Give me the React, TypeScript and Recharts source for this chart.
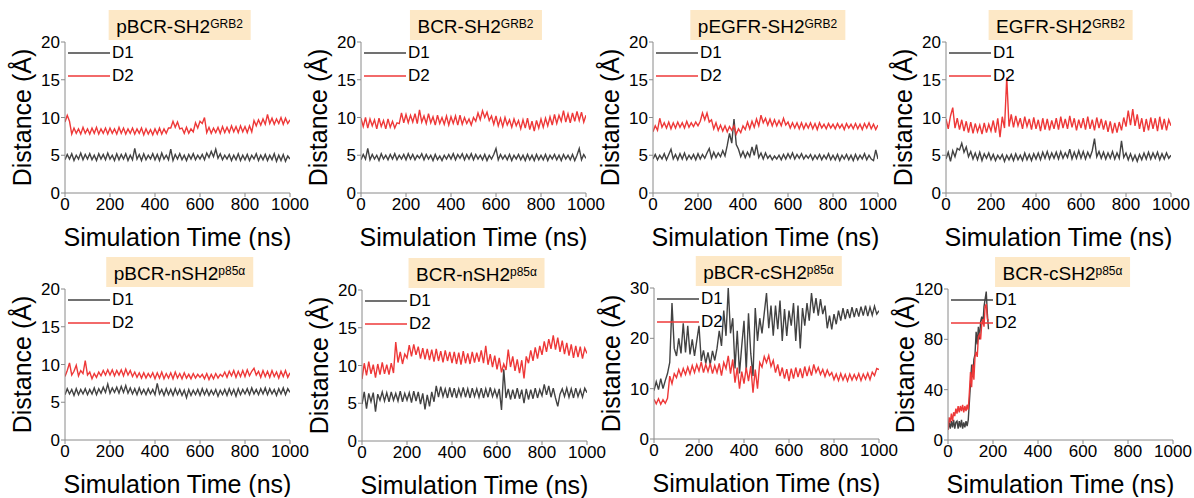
import React from "react";
import { LineChart, Line, XAxis, YAxis, Legend } from "recharts";

// sampling of the traces (ns between points)
const STEP_LONG = 10;
const STEP_SHORT = 5;

const X_TICKS = [0, 200, 400, 600, 800, 1000];
const X_MINOR = [100, 300, 500, 700, 900];
const Y_TICKS_20 = [0, 5, 10, 15, 20];
const Y_MINOR_20 = [2.5, 7.5, 12.5, 17.5];
const Y_TICKS_30 = [0, 10, 20, 30];
const Y_MINOR_30 = [5, 15, 25];
const Y_TICKS_120 = [0, 40, 80, 120];
const Y_MINOR_120 = [20, 60, 100];

// pBCR-SH2 GRB2
const pbcrGrb2D1 = [
  4.4, 5.1, 4.5, 5.2, 4.3, 5.0, 4.5, 5.3, 4.4, 5.1,
  4.5, 5.2, 4.4, 5.0, 4.3, 5.2, 4.5, 5.1, 4.4, 5.3,
  4.5, 5.0, 4.3, 5.2, 4.4, 5.1, 4.5, 5.2, 4.3, 5.0,
  4.4, 5.9, 4.5, 5.1, 4.3, 5.2, 4.4, 5.0, 4.5, 5.2,
  4.4, 5.1, 4.3, 5.3, 4.5, 5.0, 4.4, 5.8, 4.3, 5.1,
  4.5, 5.2, 4.4, 5.0, 4.3, 5.1, 4.5, 5.2, 4.4, 5.0,
  4.5, 5.1, 4.4, 5.3, 4.7, 5.5, 4.8, 5.8, 4.6, 5.2,
  4.4, 5.0, 4.5, 5.1, 4.3, 5.0, 4.4, 5.2, 4.3, 5.0,
  4.4, 5.1, 4.3, 5.0, 4.5, 5.2, 4.3, 5.0, 4.4, 5.1,
  4.3, 5.0, 4.4, 5.2, 4.2, 5.0, 4.3, 5.1, 4.2, 4.9, 4.5,
];
const pbcrGrb2D2 = [
  9.4, 10.3, 9.5, 7.8, 8.6, 7.9, 8.5, 7.8, 8.7, 7.9,
  8.5, 7.8, 8.6, 7.9, 8.7, 7.8, 8.5, 7.9, 8.6, 7.8,
  8.6, 7.9, 8.5, 7.8, 8.7, 7.9, 8.6, 7.8, 8.5, 7.9,
  8.6, 7.8, 8.5, 7.9, 8.6, 7.7, 8.5, 7.8, 8.4, 7.7,
  8.5, 7.8, 8.6, 7.8, 8.5, 7.9, 8.6, 8.6, 9.5, 8.7,
  9.4, 8.5, 8.6, 7.9, 8.7, 7.9, 8.5, 8.1, 9.3, 8.6,
  9.5, 9.2, 10.0, 8.0, 8.7, 7.9, 8.6, 8.0, 8.7, 7.9,
  8.8, 8.0, 8.7, 8.0, 8.9, 8.1, 8.8, 8.0, 8.9, 8.1,
  8.8, 8.0, 8.9, 8.1, 9.6, 8.9, 9.7, 9.0, 9.8, 9.1,
  10.4, 9.2, 9.9, 9.1, 9.8, 9.2, 10.0, 9.1, 9.9, 9.2, 9.7,
];

// BCR-SH2 GRB2
const bcrGrb2D1 = [
  4.4, 5.1, 4.5, 5.9, 4.4, 5.1, 4.5, 5.0, 4.3, 5.2,
  4.5, 5.0, 4.4, 5.1, 4.5, 5.2, 4.4, 5.0, 4.5, 5.1,
  4.4, 5.2, 4.5, 5.1, 4.4, 5.0, 4.6, 5.2, 4.4, 5.1,
  4.5, 5.0, 4.3, 5.1, 4.4, 4.9, 4.3, 5.0, 4.5, 5.1,
  4.5, 5.2, 4.4, 5.1, 4.6, 5.2, 4.4, 5.1, 4.5, 5.2,
  4.4, 5.1, 4.5, 5.0, 4.4, 5.1, 4.3, 5.0, 4.5, 5.1,
  5.9, 4.4, 5.1, 4.5, 5.0, 4.4, 5.1, 4.3, 5.0, 4.5,
  5.1, 4.4, 5.0, 4.3, 5.1, 4.4, 5.0, 4.3, 5.1, 4.4,
  5.0, 4.4, 5.1, 4.3, 5.0, 4.5, 5.1, 4.4, 5.0, 4.3,
  5.1, 4.5, 5.0, 4.4, 5.1, 4.3, 5.0, 5.9, 4.4, 5.1, 4.6,
];
const bcrGrb2D2 = [
  9.9, 8.8, 10.0, 8.6, 9.8, 8.9, 9.7, 8.5, 9.9, 8.8,
  9.6, 8.5, 9.8, 8.7, 9.5, 8.6, 9.3, 9.2, 10.6, 9.3,
  10.4, 9.3, 10.3, 9.4, 10.5, 9.2, 11.0, 9.4, 10.2, 9.2,
  10.5, 9.3, 10.1, 9.0, 10.3, 9.2, 10.0, 9.1, 10.2, 9.0,
  10.1, 9.2, 10.2, 9.0, 10.3, 9.1, 10.0, 9.2, 9.8, 9.0,
  10.0, 9.5, 10.6, 9.7, 10.9, 10.0, 10.7, 9.6, 10.2, 9.1,
  10.2, 8.9, 9.9, 8.8, 10.0, 9.0, 9.7, 8.7, 9.8, 8.9,
  9.6, 8.5, 9.7, 8.6, 9.9, 8.4, 9.5, 8.2, 9.6, 8.6,
  9.8, 8.7, 9.9, 8.9, 10.1, 9.0, 10.4, 9.2, 10.3, 9.5,
  10.9, 9.4, 10.5, 9.3, 10.6, 9.5, 10.8, 9.6, 10.7, 9.4, 10.3,
];

// pEGFR-SH2 GRB2
const pegfrGrb2D1 = [
  4.5, 5.1, 4.4, 5.0, 4.5, 5.2, 4.4, 5.1, 5.8, 4.5,
  5.1, 4.4, 5.2, 4.5, 5.3, 4.4, 5.0, 4.5, 5.1, 4.4,
  5.2, 4.5, 5.1, 4.6, 5.3, 5.9, 4.6, 5.4, 4.7, 5.3,
  4.8, 5.6, 4.9, 6.3, 7.9, 6.6, 9.8, 6.4, 5.8, 4.8,
  5.5, 4.7, 5.4, 4.8, 6.1, 5.0, 6.4, 4.7, 5.3, 4.5,
  5.3, 4.6, 5.0, 4.4, 4.9, 4.5, 5.0, 4.4, 5.1, 4.5,
  5.2, 4.6, 5.3, 4.5, 5.1, 4.6, 5.2, 4.5, 5.0, 4.6,
  5.1, 4.4, 5.0, 4.5, 5.1, 4.4, 5.0, 4.5, 5.2, 4.4,
  5.0, 4.4, 5.1, 4.3, 5.0, 4.5, 5.1, 4.4, 5.0, 4.3,
  5.1, 4.4, 5.0, 4.5, 5.2, 4.4, 5.0, 4.5, 4.3, 5.7, 4.5,
];
const pegfrGrb2D2 = [
  8.1, 8.9, 8.3, 9.9, 8.7, 9.3, 8.6, 9.4, 8.5, 9.3,
  8.6, 9.4, 8.7, 9.3, 8.6, 9.5, 8.7, 9.3, 8.8, 9.4,
  8.9, 9.5, 10.6, 9.7, 10.6, 9.4, 9.7, 8.5, 9.3, 8.3,
  9.0, 8.2, 8.9, 8.1, 8.8, 8.3, 8.9, 7.8, 8.5, 8.0,
  8.9, 8.4, 9.4, 8.5, 9.5, 8.7, 9.8, 8.9, 10.3, 9.3,
  9.9, 9.0, 9.8, 8.9, 9.7, 8.9, 9.6, 8.9, 9.9, 9.0,
  9.4, 8.6, 9.3, 8.6, 9.3, 8.5, 9.3, 8.5, 9.2, 8.6,
  9.3, 8.5, 9.2, 8.4, 9.3, 8.6, 9.1, 8.5, 9.2, 8.6,
  9.1, 8.5, 9.2, 8.6, 9.1, 8.4, 9.2, 8.6, 9.1, 8.5,
  9.2, 8.5, 9.1, 8.4, 9.2, 8.6, 9.3, 8.5, 9.1, 8.4, 9.0,
];

// EGFR-SH2 GRB2
const egfrGrb2D1 = [
  4.5, 5.4, 4.2, 5.6, 4.8, 5.9, 5.7, 6.6, 5.4, 6.1,
  4.8, 5.5, 4.5, 5.3, 4.4, 5.4, 4.3, 5.2, 4.6, 5.3,
  4.4, 5.1, 4.3, 5.0, 4.5, 5.1, 4.2, 5.0, 4.4, 5.1,
  4.3, 5.2, 4.4, 5.0, 4.3, 5.3, 4.4, 5.1, 4.3, 5.2,
  4.5, 5.3, 4.4, 5.4, 4.6, 5.5, 4.5, 5.3, 4.6, 5.4,
  4.5, 5.5, 4.6, 5.3, 4.7, 5.8, 4.5, 5.4, 4.6, 5.6,
  4.6, 5.5, 4.5, 5.4, 4.7, 5.6, 7.2, 4.8, 5.5, 4.6,
  5.4, 4.5, 5.3, 4.6, 5.5, 4.5, 5.3, 4.6, 6.9, 4.7,
  5.3, 4.4, 5.2, 4.3, 5.0, 4.2, 5.1, 4.4, 5.3, 4.5,
  5.4, 4.5, 5.3, 4.6, 5.4, 4.4, 5.2, 4.5, 5.3, 4.6, 5.0,
];
const egfrGrb2D2 = [
  9.8, 8.5, 10.2, 11.3, 8.6, 9.9, 8.4, 9.7, 8.2, 9.5,
  8.0, 9.4, 7.9, 9.2, 8.1, 9.0, 7.8, 9.3, 8.0, 9.1,
  8.2, 9.6, 8.0, 9.9, 7.4, 10.1, 8.6, 15.3, 8.8, 10.4,
  8.7, 10.2, 8.9, 9.9, 8.5, 10.1, 8.8, 9.8, 8.4, 10.0,
  8.5, 9.7, 8.2, 9.9, 8.4, 9.8, 8.3, 9.6, 8.5, 9.9,
  8.4, 10.1, 8.6, 9.8, 8.5, 10.2, 8.7, 9.9, 8.3, 9.7,
  8.6, 9.9, 8.4, 10.1, 8.5, 9.7, 8.3, 10.0, 8.6, 9.8,
  8.4, 9.6, 8.1, 9.5, 7.9, 9.3, 8.0, 9.4, 8.3, 10.0,
  8.8, 10.9, 9.0, 11.1, 8.9, 10.4, 8.5, 9.9, 8.1, 9.8,
  8.3, 10.0, 8.5, 9.9, 8.2, 10.1, 8.4, 9.8, 8.3, 9.7, 8.9,
];

// pBCR-nSH2 p85a
const pbcrNsh2D1 = [
  6.0, 6.8, 6.1, 6.7, 5.9, 6.8, 6.0, 6.7, 6.1, 6.8,
  6.0, 6.7, 6.1, 6.9, 6.0, 6.8, 6.2, 7.0, 6.3, 7.4,
  6.2, 6.9, 6.3, 7.0, 6.2, 7.1, 6.3, 7.2, 6.2, 6.9,
  6.1, 6.8, 6.0, 6.9, 6.1, 6.7, 6.0, 6.8, 6.1, 6.7,
  6.0, 7.5, 6.1, 6.7, 5.9, 6.8, 6.0, 6.7, 5.9, 6.8,
  6.0, 6.7, 5.9, 6.6, 5.6, 6.7, 5.9, 6.6, 6.0, 6.7,
  5.9, 6.8, 6.0, 6.7, 5.9, 6.6, 6.0, 6.7, 5.8, 6.6,
  6.0, 6.7, 5.9, 6.8, 6.0, 6.7, 5.8, 6.8, 6.0, 6.7,
  6.1, 6.8, 6.0, 6.9, 6.1, 6.7, 6.0, 6.8, 6.1, 6.9,
  6.0, 6.8, 6.1, 6.7, 5.9, 6.8, 6.1, 6.9, 6.0, 6.8, 6.3,
];
const pbcrNsh2D2 = [
  8.4, 9.2, 10.2, 8.6, 9.1, 9.9, 8.5, 9.2, 8.8, 10.5,
  8.6, 9.0, 8.1, 8.8, 8.3, 9.0, 8.5, 9.2, 8.6, 9.3,
  8.6, 9.3, 8.5, 9.2, 8.6, 9.3, 8.5, 9.4, 8.6, 9.2,
  8.4, 9.0, 8.3, 8.9, 8.2, 8.9, 8.2, 8.8, 8.3, 8.9,
  8.1, 8.9, 8.2, 9.0, 8.1, 8.8, 8.2, 8.9, 8.1, 9.0,
  8.2, 8.8, 8.1, 8.9, 8.2, 8.7, 8.1, 8.8, 8.2, 8.7,
  8.3, 8.7, 8.1, 8.8, 8.0, 8.7, 8.1, 8.8, 8.2, 8.7,
  8.4, 9.0, 8.3, 9.1, 8.5, 9.2, 8.3, 9.1, 8.4, 9.2,
  8.4, 9.3, 8.5, 9.1, 9.5, 8.6, 9.1, 8.3, 9.2, 8.4,
  9.1, 8.3, 9.2, 8.4, 9.0, 8.2, 9.1, 8.4, 9.2, 8.3, 8.9,
];

// BCR-nSH2 p85a
const bcrNsh2D1 = [
  4.9, 6.5, 4.3, 6.3, 5.2, 6.4, 3.9, 6.2, 5.4, 6.5,
  5.3, 6.4, 5.2, 6.5, 5.4, 6.3, 5.3, 6.6, 5.2, 6.3,
  5.4, 6.4, 5.1, 6.6, 5.3, 6.5, 4.9, 6.3, 4.2, 6.1,
  4.6, 6.5, 5.2, 7.3, 5.8, 7.2, 5.9, 6.9, 5.7, 7.1,
  5.8, 7.0, 5.7, 6.9, 5.9, 7.1, 5.8, 6.9, 5.7, 7.0,
  5.9, 6.9, 5.8, 7.0, 5.7, 6.9, 5.8, 7.1, 5.9, 6.8,
  5.8, 6.9, 4.1, 9.5, 5.7, 6.9, 5.5, 6.8, 5.6, 7.0,
  5.6, 6.8, 5.0, 6.9, 5.5, 6.8, 5.6, 7.0, 5.7, 6.8,
  6.0, 7.5, 6.1, 7.3, 5.8, 7.0, 5.7, 4.6, 6.2, 6.9,
  5.9, 7.0, 5.8, 6.9, 5.7, 7.0, 5.9, 6.8, 5.8, 7.0, 6.4,
];
const bcrNsh2D2 = [
  8.2, 10.3, 8.7, 10.5, 8.9, 10.1, 8.4, 10.2, 8.8, 10.4,
  8.9, 10.1, 8.8, 10.3, 9.0, 13.1, 10.4, 11.8, 10.2, 11.5,
  11.0, 12.7, 11.2, 12.8, 11.4, 12.5, 10.9, 12.3, 10.8, 12.2,
  10.7, 12.1, 10.5, 12.2, 10.6, 11.9, 10.4, 12.0, 10.6, 11.8,
  10.3, 11.8, 10.2, 11.7, 10.1, 11.9, 10.3, 11.6, 10.2, 11.8,
  10.4, 11.7, 10.5, 12.0, 10.3, 12.6, 10.1, 11.5, 9.8, 11.3,
  9.5, 11.0, 9.1, 10.2, 9.4, 12.1, 9.8, 11.2, 9.3, 10.8,
  9.0, 10.7, 8.3, 11.2, 10.3, 12.0, 10.6, 12.4, 10.9, 12.6,
  11.4, 13.2, 11.8, 13.5, 12.2, 14.0, 12.1, 13.7, 11.8, 13.3,
  11.5, 13.0, 11.3, 12.8, 11.0, 12.6, 11.1, 12.5, 10.9, 12.3, 11.6,
];

// pBCR-cSH2 p85a
const pbcrCsh2D1 = [
  9.6, 11.4, 9.8, 12.0, 10.0, 11.6, 13.0, 15.2, 27.0, 18.0,
  16.5, 20.0, 17.0, 23.0, 17.2, 22.5, 16.8, 19.8, 16.5, 19.5,
  22.5, 15.5, 17.6, 15.0, 17.2, 14.8, 17.5, 15.6, 18.0, 21.5,
  18.5, 25.5, 20.5, 30.0, 21.0, 24.0, 14.0, 21.5, 13.0, 18.5,
  23.5, 13.5, 25.0, 17.0, 12.5, 26.0, 19.5, 24.0, 21.0, 25.0,
  29.0, 22.0, 26.5, 20.5, 26.5, 21.8, 27.5, 19.5, 25.8, 20.5,
  25.5, 22.5, 27.0, 19.5, 26.5, 18.0, 26.0, 22.5, 27.0, 23.5,
  29.0, 25.0, 28.0, 24.5, 27.8, 24.8, 26.5, 22.0, 24.5, 21.8,
  24.8, 22.8, 25.5, 23.5, 26.0, 23.8, 25.8, 24.0, 26.2, 24.2,
  26.0, 24.3, 26.3, 24.5, 26.5, 24.4, 26.2, 24.6, 26.4, 24.8, 25.5,
];
const pbcrCsh2D2 = [
  7.9, 7.0, 8.0, 6.9, 7.8, 7.1, 8.1, 12.5, 11.0, 13.0,
  12.2, 13.8, 12.5, 14.0, 12.8, 14.3, 12.9, 14.6, 13.2, 14.8,
  13.5, 15.3, 13.2, 14.8, 13.4, 15.0, 13.0, 14.6, 13.2, 15.0,
  12.6, 15.2, 14.0, 16.5, 13.0, 15.8, 11.2, 14.2, 10.0, 13.4,
  11.0, 14.2, 11.5, 14.5, 9.2, 13.8, 10.0, 15.2, 14.3, 16.4,
  15.2, 16.6, 14.4, 15.6, 13.2, 14.8, 12.5, 14.2, 12.0, 13.9,
  11.5, 14.0, 12.0, 14.2, 12.3, 14.0, 12.1, 14.4, 12.5, 14.2,
  12.6, 14.8, 13.2, 14.2, 12.8, 13.8, 12.4, 13.7, 12.6, 13.2,
  11.8, 12.9, 11.6, 13.0, 11.7, 12.8, 11.5, 12.9, 11.7, 12.8,
  11.8, 13.0, 11.6, 12.9, 11.9, 13.1, 11.8, 13.3, 12.6, 14.0, 13.8,
];

// BCR-cSH2 p85a (0-180 ns only, 5 ns steps)
const bcrCsh2D1 = [
  8, 14, 9, 15, 10, 16, 9, 14, 15, 9,
  15, 10, 16, 9, 14, 10, 15, 11, 16, 30,
  45, 60, 50, 64, 68, 86, 76, 90, 80, 94,
  98, 92, 106, 112, 118, 100, 88,
];
const bcrCsh2D2 = [
  8, 18, 14, 21, 15, 22, 19, 25, 21, 27,
  22, 27, 23, 28, 22, 27, 23, 28, 24, 38,
  54, 42, 60, 48, 66, 70, 66, 82, 84, 80,
  92, 96, 90, 106, 108, 96, 95,
];

const FONT = '"Liberation Sans", Arial, sans-serif';
const FRAME = "#8a8a8a";
const D1_COLOR = "#424242";
const D2_COLOR = "#ee3838";

type PanelDef = {
  left: number;
  top: number;
  title: string;
  sup: string;
  d1: number[];
  d2: number[];
  step: number;
  yMax: number;
  yTicks: number[];
  yMinor: number[];
};

const PANELS: PanelDef[] = [
  { left: 0, top: 0, title: "pBCR-SH2", sup: "GRB2", d1: pbcrGrb2D1, d2: pbcrGrb2D2, step: STEP_LONG, yMax: 20, yTicks: Y_TICKS_20, yMinor: Y_MINOR_20 },
  { left: 296, top: 0, title: "BCR-SH2", sup: "GRB2", d1: bcrGrb2D1, d2: bcrGrb2D2, step: STEP_LONG, yMax: 20, yTicks: Y_TICKS_20, yMinor: Y_MINOR_20 },
  { left: 588, top: 0, title: "pEGFR-SH2", sup: "GRB2", d1: pegfrGrb2D1, d2: pegfrGrb2D2, step: STEP_LONG, yMax: 20, yTicks: Y_TICKS_20, yMinor: Y_MINOR_20 },
  { left: 881, top: 0, title: "EGFR-SH2", sup: "GRB2", d1: egfrGrb2D1, d2: egfrGrb2D2, step: STEP_LONG, yMax: 20, yTicks: Y_TICKS_20, yMinor: Y_MINOR_20 },
  { left: 0, top: 247, title: "pBCR-nSH2", sup: "p85\u03b1", d1: pbcrNsh2D1, d2: pbcrNsh2D2, step: STEP_LONG, yMax: 20, yTicks: Y_TICKS_20, yMinor: Y_MINOR_20 },
  { left: 297, top: 248, title: "BCR-nSH2", sup: "p85\u03b1", d1: bcrNsh2D1, d2: bcrNsh2D2, step: STEP_LONG, yMax: 20, yTicks: Y_TICKS_20, yMinor: Y_MINOR_20 },
  { left: 589, top: 246, title: "pBCR-cSH2", sup: "p85\u03b1", d1: pbcrCsh2D1, d2: pbcrCsh2D2, step: STEP_LONG, yMax: 30, yTicks: Y_TICKS_30, yMinor: Y_MINOR_30 },
  { left: 883, top: 247, title: "BCR-cSH2", sup: "p85\u03b1", d1: bcrCsh2D1, d2: bcrCsh2D2, step: STEP_SHORT, yMax: 120, yTicks: Y_TICKS_120, yMinor: Y_MINOR_120 },
];

const Y_AXIS_W = 65;
const X_AXIS_H = 57;
const PLOT_W = 225;
const MARGIN = { top: 42, right: 22, left: 0, bottom: 0 };
const W = Y_AXIS_W + PLOT_W + MARGIN.right;
const H = 250;

function YTitle(props: any) {
  const vb = props.viewBox || {};
  const x = vb.x + vb.width - 43;
  const y = vb.y + vb.height / 2;
  return (
    <text x={x} y={y} transform={`rotate(-90 ${x} ${y})`} textAnchor="middle" dominantBaseline="central" fontSize={25} fill="#000" fontFamily={FONT}>
      Distance (Å)
    </text>
  );
}

function XTitle(props: any) {
  const vb = props.viewBox || {};
  const x = vb.x + vb.width / 2;
  const y = vb.y + 44;
  return (
    <text x={x} y={y} textAnchor="middle" dominantBaseline="central" fontSize={25} fill="#000" fontFamily={FONT}>
      Simulation Time (ns)
    </text>
  );
}

function LegendBox(props: any) {
  const items = props.payload || [];
  return (
    <div style={{ fontFamily: FONT }}>
      {items.map((it: any) => (
        <div key={it.value} style={{ display: "flex", alignItems: "center", height: 23 }}>
          <svg width={42} height={4} style={{ display: "block" }}>
            <line x1={0} y1={2} x2={42} y2={2} stroke={it.color} strokeWidth={1.5} />
          </svg>
          <span style={{ fontSize: 17, marginLeft: 2, color: "#000" }}>{it.value}</span>
        </div>
      ))}
    </div>
  );
}

function Panel({ p }: { p: PanelDef }) {
  const rows = p.d1.map((v, i) => ({ t: i * p.step, d1: v, d2: p.d2[i] }));
  const tick = { fill: "#000", fontSize: 17, fontFamily: FONT };
  return (
    <div style={{ position: "absolute", left: p.left, top: p.top, width: W, height: H }}>
      <LineChart width={W} height={H} data={rows} margin={MARGIN}>
        <XAxis
          dataKey="t"
          type="number"
          domain={[0, 1000]}
          allowDataOverflow
          ticks={X_TICKS}
          interval={0}
          height={X_AXIS_H}
          stroke={FRAME}
          tickSize={4}
          tickMargin={1}
          tick={tick}
          label={{ content: XTitle }}
        />
        <XAxis xAxisId="minor" dataKey="t" type="number" domain={[0, 1000]} allowDataOverflow ticks={X_MINOR} interval={0} mirror height={0} axisLine={false} tick={false} tickSize={3} stroke={FRAME} />
        <XAxis xAxisId="top" orientation="top" dataKey="t" type="number" domain={[0, 1000]} allowDataOverflow height={0} tick={false} tickLine={false} stroke={FRAME} />
        <YAxis
          type="number"
          domain={[0, p.yMax]}
          allowDataOverflow
          ticks={p.yTicks}
          interval={0}
          width={Y_AXIS_W}
          stroke={FRAME}
          tickSize={4}
          tickMargin={1}
          tick={tick}
          label={{ content: YTitle }}
        />
        <YAxis yAxisId="minor" type="number" domain={[0, p.yMax]} allowDataOverflow ticks={p.yMinor} interval={0} mirror width={0} axisLine={false} tick={false} tickSize={3} stroke={FRAME} />
        <YAxis yAxisId="right" orientation="right" type="number" domain={[0, p.yMax]} allowDataOverflow width={0} tick={false} tickLine={false} stroke={FRAME} />
        <Legend
          layout="vertical"
          align="center"
          verticalAlign="middle"
          content={LegendBox}
          wrapperStyle={{ left: Y_AXIS_W + 3, top: MARGIN.top - 1, width: "auto", height: "auto" }}
        />
        <Line name="D1" dataKey="d1" type="linear" stroke={D1_COLOR} strokeWidth={1.4} dot={false} isAnimationActive={false} />
        <Line name="D2" dataKey="d2" type="linear" stroke={D2_COLOR} strokeWidth={1.4} dot={false} isAnimationActive={false} />
      </LineChart>
      <div
        style={{
          position: "absolute",
          left: Y_AXIS_W + PLOT_W / 2 + 2,
          top: MARGIN.top - 32,
          transform: "translateX(-50%)",
          background: "#fde8c6",
          padding: "3px 8px 0 8px",
          height: 27,
          lineHeight: "27px",
          fontSize: 19,
          fontFamily: FONT,
          whiteSpace: "nowrap",
          color: "#000",
        }}
      >
        {p.title}
        <span style={{ fontSize: 12, position: "relative", top: -5 }}>{p.sup}</span>
      </div>
    </div>
  );
}

export default function App() {
  return (
    <div style={{ position: "absolute", left: 0, top: 0, width: 1194, height: 498, background: "#fff", overflow: "hidden" }}>
      {PANELS.map((p) => (
        <Panel key={p.title + p.sup} p={p} />
      ))}
    </div>
  );
}
